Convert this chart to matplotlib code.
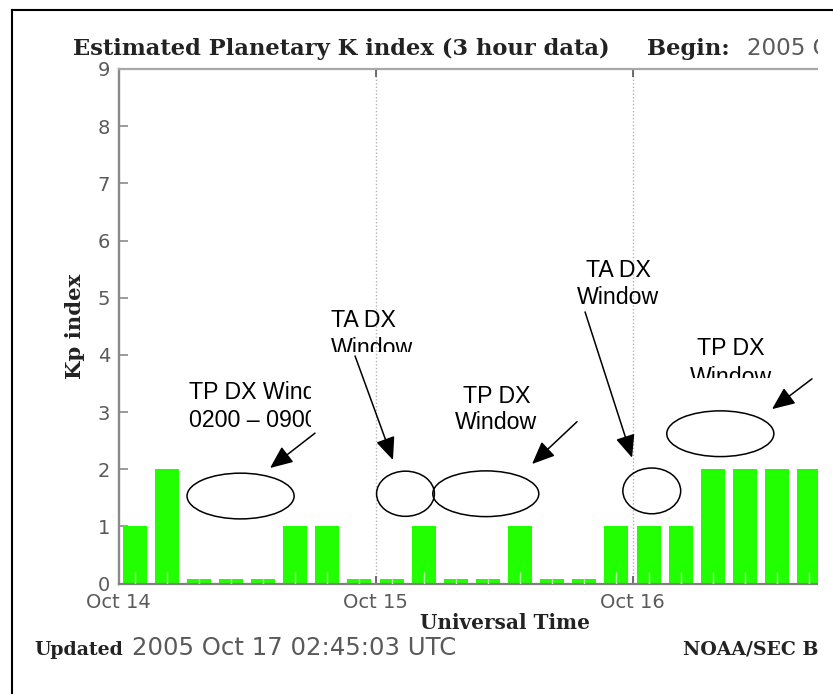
import matplotlib
matplotlib.use('Agg')
import matplotlib.pyplot as plt
from matplotlib.patches import Ellipse, FancyArrowPatch, Rectangle
from matplotlib.transforms import Bbox
from matplotlib.lines import Line2D
import numpy as np

W, H, DPI = 833, 694, 100

# ---------------- data ----------------
kp_values = [1, 2, 0, 0, 0, 1, 1, 0,
             0, 1, 0, 0, 1, 0, 0, 1,
             1, 1, 2, 2, 2, 2]
bin_hours = 3
day_ticks = [0, 24, 48]
day_labels = ['Oct 14', 'Oct 15', 'Oct 16']
y_ticks = list(range(0, 10))

# annotation shapes (x in hours since Oct 14 00 UT, y in Kp units)
window_ellipses = [(11.4, 1.53, 10.0, 0.80),
                   (26.8, 1.57, 5.4, 0.79),
                   (34.3, 1.57, 9.9, 0.80),
                   (49.8, 1.62, 5.4, 0.80),
                   (56.2, 2.62, 10.0, 0.80)]
arrow_tails = [(18.35, 2.63), (22.09, 3.98), (42.82, 2.83), (43.57, 4.75), (64.76, 3.58)]
arrow_tips = [(14.15, 2.02), (25.63, 2.16), (38.62, 2.09), (47.96, 2.20), (61.03, 3.05)]
note_lines = [["TP DX Window", "0200 \u2013 0900 UTC"],
              ["TA DX", "Window"],
              ["TP DX", "Window"],
              ["TA DX", "Window"],
              ["TP DX", "Window"]]
note_x = [6.56, 19.84, 35.30, 46.65, 57.20]
note_ha = ['left', 'left', 'center', 'center', 'center']
note_y = [[3.228, 2.738], [4.487, 3.998], [3.157, 2.702], [5.361, 4.889], [3.998, 3.49]]
# clip boxes in pixels (x0, top, x1, bottom) of reference picture
note_clip = [(0, 0, 311, 694), (0, 0, 833, 352), None, None, (0, 0, 833, 378)]

# ---------------- figure ----------------
fig = plt.figure(figsize=(W / DPI, H / DPI), dpi=DPI)
renderer = fig.canvas.get_renderer()

def fx(x):
    return x / W

def fy(y):
    return 1 - y / H

def pbox(x0, top, x1, bottom):
    return Bbox([[x0, H - bottom], [x1, H - top]])

ax_l, ax_r, ax_t, ax_b = 118.5, 818, 69, 583.5
ax = fig.add_axes([fx(ax_l), fy(ax_b), (ax_r - ax_l) / W, (ax_b - ax_t) / H])
px_per_hour = 257 / 24.0
ax.set_xlim(0, (ax_r - ax_l) / px_per_hour)
ax.set_ylim(0, 9)

kp = np.array(kp_values, dtype=float)
centers = np.arange(len(kp)) * bin_hours + bin_hours / 2
heights = np.where(kp == 0, 0.07, kp)
ax.bar(centers, heights, width=0.75 * bin_hours, color='#22ff00', linewidth=0, zorder=2)
# faint light streak at the foot of every bar (as in the scanned original)
ax.vlines(centers, 0, np.minimum(heights, 0.2), color='#b6ffa8', linewidth=1.0, zorder=3)

for d in day_ticks[1:]:
    ax.axvline(d, color='#b4b4b4', linestyle=(0, (1, 1.5)), linewidth=1.0, zorder=1)

ax.set_xticks(day_ticks)
ax.set_xticklabels(day_labels)
ax.set_yticks(y_ticks)
ax.tick_params(axis='x', direction='in', top=True, length=6, width=1.2, color='#555555',
               pad=7, labelsize=14, labelcolor='#5a5a5a')
ax.tick_params(axis='y', direction='in', length=6.5, width=1.2, color='#8a8a8a',
               pad=6, labelsize=14, labelcolor='#5a5a5a')
for lab in ax.get_xticklabels() + ax.get_yticklabels():
    lab.set_fontfamily('DejaVu Sans')
ax.spines['right'].set_visible(False)
ax.spines['left'].set_color('#8a8a8a')
ax.spines['left'].set_linewidth(1.7)
ax.spines['top'].set_color('#a8a8a8')
ax.spines['top'].set_linewidth(1.6)
ax.spines['bottom'].set_color('#808080')
ax.spines['bottom'].set_linewidth(1.6)

# annotations
for (cx, cy, w, h) in window_ellipses:
    ax.add_patch(Ellipse((cx, cy), w, h, facecolor='none', edgecolor='black',
                         linewidth=1.1, zorder=4, clip_on=False))
for tail, tip in zip(arrow_tails, arrow_tips):
    ax.add_patch(FancyArrowPatch(tail, tip, arrowstyle='-|>,head_length=14,head_width=6',
                                 mutation_scale=1, color='black', linewidth=1.1,
                                 shrinkA=0, shrinkB=0, zorder=4, clip_on=False))
for lines, x, ha, ys, clip in zip(note_lines, note_x, note_ha, note_y, note_clip):
    for s, y in zip(lines, ys):
        t = ax.text(x, y, s, ha=ha, va='baseline', fontsize=16.7,
                    family='Liberation Sans', color='black', zorder=5)
        if clip is not None:
            t.set_clip_on(True)
            t.set_clip_box(pbox(*clip))

# ---------------- surrounding text ----------------
SERIF = 'DejaVu Serif'
SANS = 'DejaVu Sans'
DARK = '#222222'
GRAY = '#5a5a5a'

def fit_w(t, target):
    w = t.get_window_extent(renderer).width
    t.set_fontsize(t.get_fontsize() * target / w)
    return t.get_fontsize()

title = fig.text(fx(73), fy(55), 'Estimated Planetary K index (3 hour data)', family=SERIF,
                 weight='bold', color=DARK, fontsize=12, va='baseline')
tsz = fit_w(title, 537)
fig.text(fx(647), fy(55), 'Begin:', family=SERIF, weight='bold', color=DARK,
         fontsize=tsz, va='baseline')
probe = fig.text(0, 0, '2005', family=SANS, fontsize=12)
gsz = fit_w(probe, 58)
probe.remove()
fig.text(fx(747), fy(55), '2005 Oct 14 0000 UTC', family=SANS, color=GRAY,
         fontsize=gsz, va='baseline')

ylab = fig.text(fx(75), fy(326), 'Kp index', family=SERIF, weight='bold', color=DARK,
                fontsize=12, rotation=90, ha='center', va='center')
hgt = ylab.get_window_extent(renderer).height
ylab.set_fontsize(12 * 105 / hgt)

xlab = fig.text(fx(505), fy(629), 'Universal Time', family=SERIF, weight='bold', color=DARK,
                fontsize=12, ha='center', va='baseline')
fit_w(xlab, 170)

upd = fig.text(fx(34), fy(655), 'Updated', family=SERIF, weight='bold', color=DARK,
               fontsize=12, va='baseline')
usz = fit_w(upd, 89)
ud = fig.text(fx(132), fy(655), '2005 Oct 17 02:45:03 UTC', family=SANS, color=GRAY,
              fontsize=12, va='baseline')
fit_w(ud, 323)
fig.text(fx(683), fy(655), 'NOAA/SEC Boulder, CO USA', family=SERIF, weight='bold',
         color=DARK, fontsize=usz, va='baseline')

# the picture is cropped at the right: blank strip beyond x = 818 px
fig.add_artist(Rectangle((fx(818), 0), 1 - fx(818), 1, transform=fig.transFigure,
                         facecolor='white', edgecolor='none', zorder=50))

# outer frame (page box)
fig.add_artist(Line2D([fx(12), fx(12)], [0, fy(10)], color='black', linewidth=1.5,
                      transform=fig.transFigure, zorder=60))
fig.add_artist(Line2D([fx(12), 1], [fy(10), fy(10)], color='black', linewidth=1.5,
                      transform=fig.transFigure, zorder=60))

fig.savefig('out.png', dpi=DPI)
